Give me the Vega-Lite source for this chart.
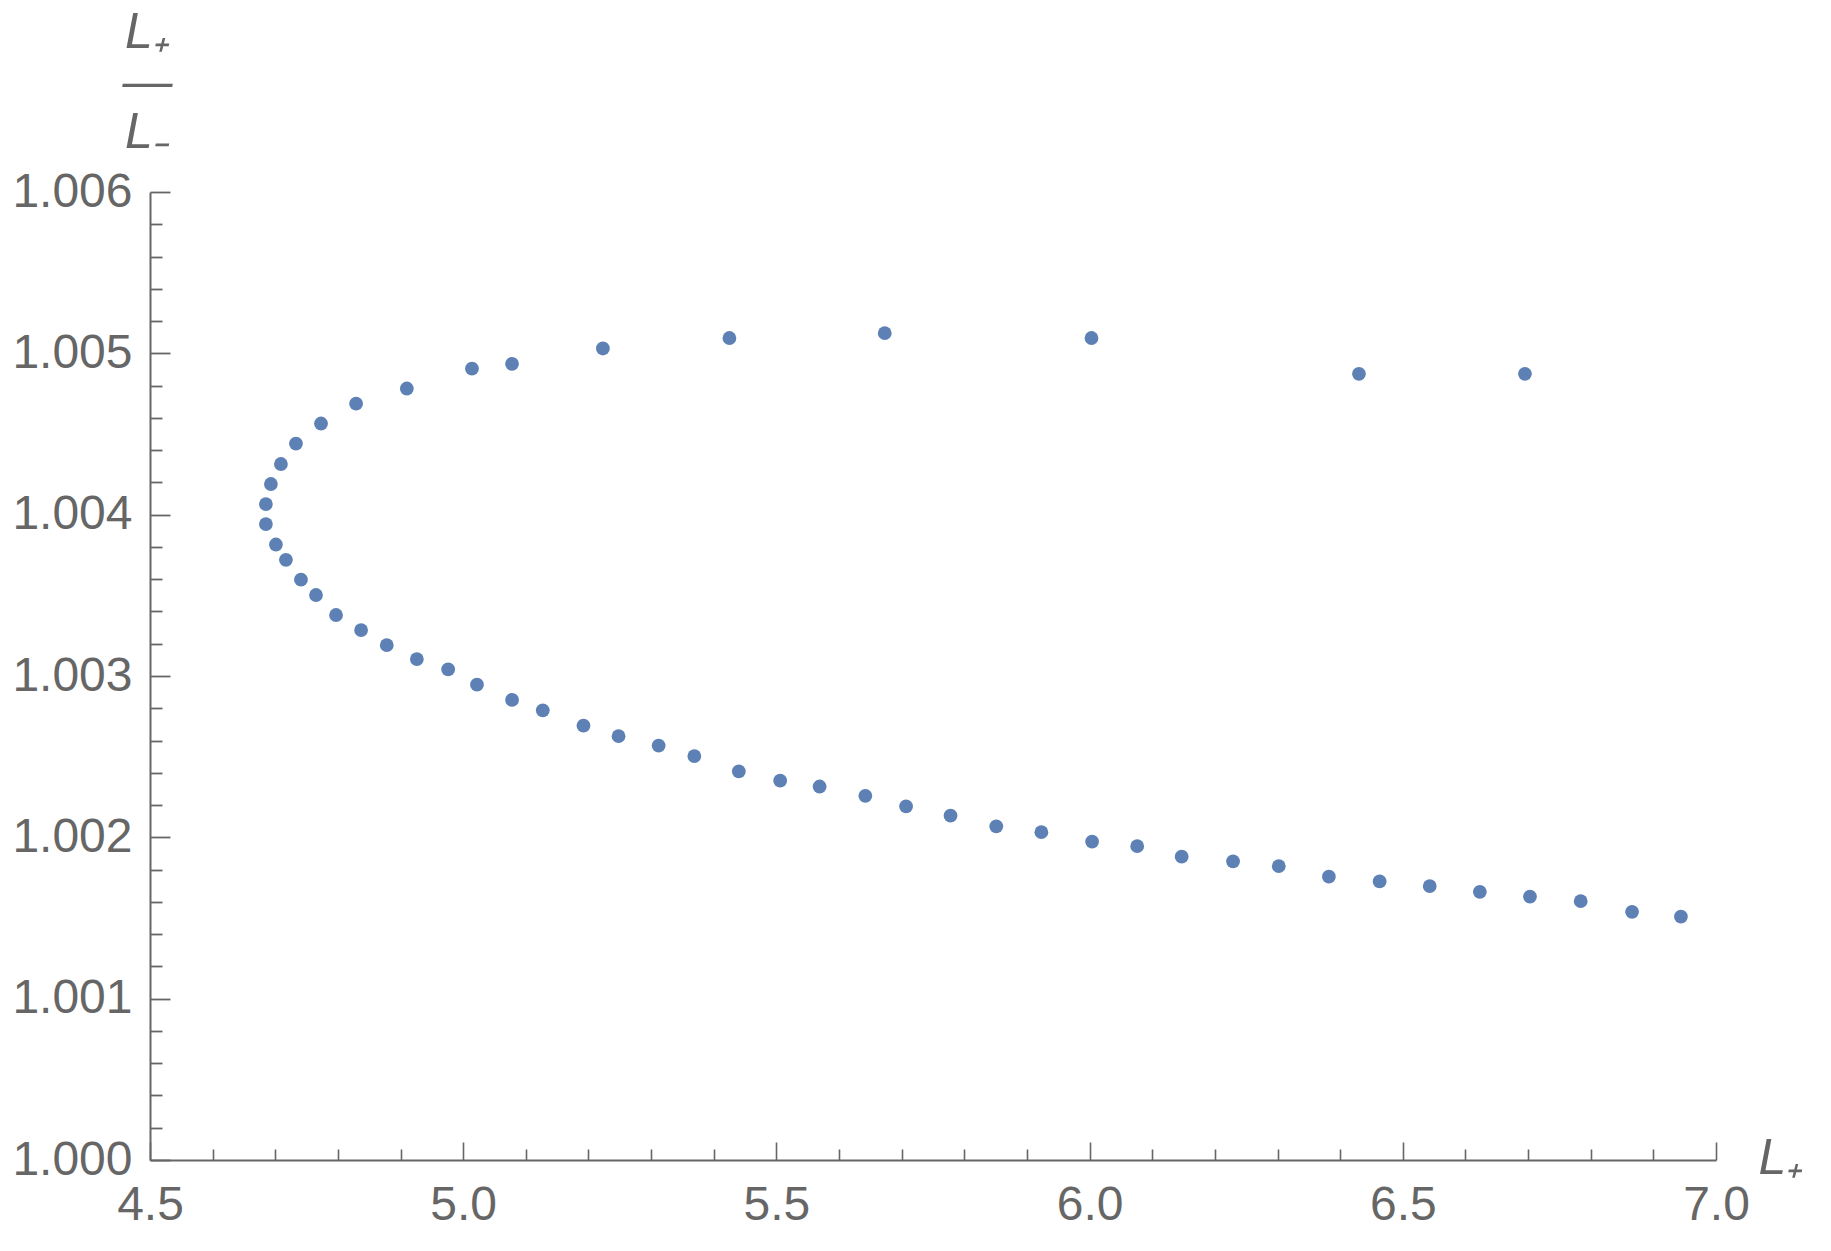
{
  "$schema": "https://vega.github.io/schema/vega-lite/v6.json",
  "width": 1566,
  "height": 968,
  "autosize": "none",
  "padding": {"left": 150, "top": 192, "right": 115, "bottom": 91},
  "background": "white",
  "config": {"view": {"stroke": null}},
  "data": {"values": [
    {"Lp": 6.695, "ratio": 1.004873},
    {"Lp": 6.430, "ratio": 1.004873},
    {"Lp": 6.003, "ratio": 1.005095},
    {"Lp": 5.673, "ratio": 1.005125},
    {"Lp": 5.425, "ratio": 1.005095},
    {"Lp": 5.223, "ratio": 1.005030},
    {"Lp": 5.078, "ratio": 1.004935},
    {"Lp": 5.014, "ratio": 1.004905},
    {"Lp": 4.910, "ratio": 1.004782},
    {"Lp": 4.829, "ratio": 1.004688},
    {"Lp": 4.773, "ratio": 1.004565},
    {"Lp": 4.733, "ratio": 1.004441},
    {"Lp": 4.709, "ratio": 1.004314},
    {"Lp": 4.693, "ratio": 1.004190},
    {"Lp": 4.685, "ratio": 1.004066},
    {"Lp": 4.685, "ratio": 1.003942},
    {"Lp": 4.701, "ratio": 1.003815},
    {"Lp": 4.717, "ratio": 1.003720},
    {"Lp": 4.741, "ratio": 1.003597},
    {"Lp": 4.765, "ratio": 1.003502},
    {"Lp": 4.797, "ratio": 1.003378},
    {"Lp": 4.837, "ratio": 1.003285},
    {"Lp": 4.878, "ratio": 1.003191},
    {"Lp": 4.926, "ratio": 1.003105},
    {"Lp": 4.976, "ratio": 1.003041},
    {"Lp": 5.022, "ratio": 1.002946},
    {"Lp": 5.078, "ratio": 1.002852},
    {"Lp": 5.127, "ratio": 1.002787},
    {"Lp": 5.192, "ratio": 1.002692},
    {"Lp": 5.248, "ratio": 1.002627},
    {"Lp": 5.312, "ratio": 1.002569},
    {"Lp": 5.369, "ratio": 1.002504},
    {"Lp": 5.440, "ratio": 1.002409},
    {"Lp": 5.506, "ratio": 1.002351},
    {"Lp": 5.569, "ratio": 1.002315},
    {"Lp": 5.642, "ratio": 1.002257},
    {"Lp": 5.707, "ratio": 1.002192},
    {"Lp": 5.778, "ratio": 1.002134},
    {"Lp": 5.851, "ratio": 1.002068},
    {"Lp": 5.923, "ratio": 1.002032},
    {"Lp": 6.004, "ratio": 1.001974},
    {"Lp": 6.076, "ratio": 1.001945},
    {"Lp": 6.147, "ratio": 1.001880},
    {"Lp": 6.229, "ratio": 1.001851},
    {"Lp": 6.302, "ratio": 1.001821},
    {"Lp": 6.382, "ratio": 1.001756},
    {"Lp": 6.463, "ratio": 1.001727},
    {"Lp": 6.543, "ratio": 1.001698},
    {"Lp": 6.623, "ratio": 1.001662},
    {"Lp": 6.703, "ratio": 1.001633},
    {"Lp": 6.784, "ratio": 1.001604},
    {"Lp": 6.866, "ratio": 1.001538},
    {"Lp": 6.944, "ratio": 1.001509}
  ]},
  "mark": {"type": "circle", "size": 190, "color": "#5e81b5", "opacity": 1},
  "encoding": {
    "x": {
      "field": "Lp", "type": "quantitative",
      "scale": {"domain": [4.5, 7.0], "nice": false, "zero": false},
      "axis": {
        "values": [4.5,4.6,4.7,4.8,4.9,5.0,5.1,5.2,5.3,5.4,5.5,5.6,5.7,5.8,5.9,6.0,6.1,6.2,6.3,6.4,6.5,6.6,6.7,6.8,6.9,7.0],
        "labelExpr": "abs(datum.value*2 - round(datum.value*2)) < 1e-6 ? format(datum.value, '.1f') : ''",
        "grid": false,
        "domainColor": "#666666",
        "domainWidth": 2,
        "tickColor": "#666666",
        "tickWidth": 1.6,
        "tickSize": {"condition": {"test": "abs(datum.value*2 - round(datum.value*2)) < 1e-6", "value": -18}, "value": -11},
        "labelPadding": 39,
        "labelFont": "Liberation Sans",
        "labelFontSize": 48,
        "labelColor": "#666666",
        "labelFlush": false,
        "labelOverlap": false,
        "title": "L₊",
        "titleFont": "Liberation Sans",
        "titleFontStyle": "italic",
        "titleFontWeight": "normal",
        "titleFontSize": 50,
        "titleColor": "#666666",
        "titleAngle": 0,
        "titleAlign": "left",
        "titleBaseline": "alphabetic",
        "titleX": 1608,
        "titleY": 13
      }
    },
    "y": {
      "field": "ratio", "type": "quantitative",
      "scale": {"domain": [1.0, 1.006], "nice": false, "zero": false},
      "axis": {
        "values": [1.0,1.0002,1.0004,1.0006,1.0008,1.001,1.0012,1.0014,1.0016,1.0018,1.002,1.0022,1.0024,1.0026,1.0028,1.003,1.0032,1.0034,1.0036,1.0038,1.004,1.0042,1.0044,1.0046,1.0048,1.005,1.0052,1.0054,1.0056,1.0058,1.006],
        "labelExpr": "abs(datum.value*1000 - round(datum.value*1000)) < 1e-6 ? format(datum.value, '.3f') : ''",
        "grid": false,
        "domainColor": "#666666",
        "domainWidth": 2,
        "tickColor": "#666666",
        "tickWidth": 1.8,
        "tickSize": {"condition": {"test": "abs(datum.value*1000 - round(datum.value*1000)) < 1e-6", "value": -20}, "value": -12},
        "labelPadding": 38,
        "labelFont": "Liberation Sans",
        "labelFontSize": 48,
        "labelColor": "#666666",
        "labelFlush": false,
        "labelOverlap": false,
        "title": ["L₊", "—", "L₋"],
        "titleFont": "Liberation Sans",
        "titleFontStyle": "italic",
        "titleFontWeight": "normal",
        "titleFontSize": 50,
        "titleLineHeight": 50,
        "titleColor": "#666666",
        "titleAngle": 0,
        "titleAlign": "center",
        "titleBaseline": "alphabetic",
        "titleX": -3,
        "titleY": -145
      }
    }
  }
}
